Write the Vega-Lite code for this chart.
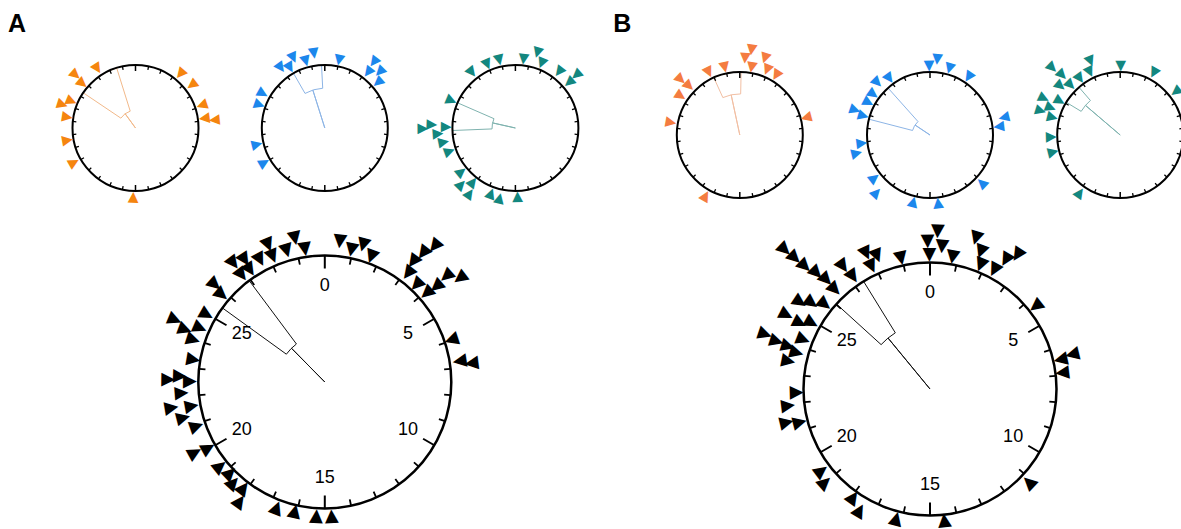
{
"$schema":"https://vega.github.io/schema/vega-lite/v6.json",
"background":"white",
"autosize":{"type":"pad"},
"padding":{"left":7.75,"top":11,"right":0,"bottom":0},
"bounds":"flush",
"align":"each",
"spacing":{"row":20,"column":0},
"columns":6,
"config":{"view":{"stroke":null}},
"datasets":{
"ring":[{"from":0,"to":30,"r":1}],
"ticks":[{"d":0},{"d":1},{"d":2},{"d":3},{"d":4},{"d":5},{"d":6},{"d":7},{"d":8},{"d":9},{"d":10},{"d":11},{"d":12},{"d":13},{"d":14},{"d":15},{"d":16},{"d":17},{"d":18},{"d":19},{"d":20},{"d":21},{"d":22},{"d":23},{"d":24},{"d":25},{"d":26},{"d":27},{"d":28},{"d":29}],
"labels":[{"d":0,"t":"0"},{"d":5,"t":"5"},{"d":10,"t":"10"},{"d":15,"t":"15"},{"d":20,"t":"20"},{"d":25,"t":"25"}],
"stats":[
{"p":"A","g":"o","m":27.0,"lo":25.33,"hi":28.55,"rho":0.28},
{"p":"A","g":"b","m":28.54,"lo":27.52,"hi":29.75,"rho":0.632},
{"p":"A","g":"t","m":23.55,"lo":22.31,"hi":24.46,"rho":0.371},
{"p":"A","g":"all","m":26.28,"lo":25.49,"hi":26.94,"rho":0.375},
{"p":"B","g":"o","m":28.99,"lo":27.97,"hi":30.1,"rho":0.652},
{"p":"B","g":"b","m":25.31,"lo":23.71,"hi":26.52,"rho":0.286},
{"p":"B","g":"t","m":25.87,"lo":25.1,"hi":26.6,"rho":0.724},
{"p":"B","g":"all","m":26.71,"lo":26.02,"hi":27.36,"rho":0.522}],
"ev":[
{"p":"A","g":"o","d":27.28,"r":1.129},{"p":"A","g":"o","d":25.96,"r":1.274},{"p":"A","g":"o","d":25.83,"r":1.107},{"p":"A","g":"o","d":23.99,"r":1.226},{"p":"A","g":"o","d":24.40,"r":1.110},{"p":"A","g":"o","d":23.26,"r":1.101},{"p":"A","g":"o","d":21.65,"r":1.105},{"p":"A","g":"o","d":20.06,"r":1.126},{"p":"A","g":"o","d":15.16,"r":1.109},{"p":"A","g":"o","d":3.30,"r":1.123},{"p":"A","g":"o","d":4.40,"r":1.132},{"p":"A","g":"o","d":5.92,"r":1.122},{"p":"A","g":"o","d":6.84,"r":1.109},{"p":"A","g":"o","d":7.02,"r":1.264},
{"p":"A","g":"b","d":26.98,"r":1.193},{"p":"A","g":"b","d":27.50,"r":1.112},{"p":"A","g":"b","d":27.99,"r":1.229},{"p":"A","g":"b","d":28.67,"r":1.112},{"p":"A","g":"b","d":29.30,"r":1.203},{"p":"A","g":"b","d":0.99,"r":1.108},{"p":"A","g":"b","d":3.05,"r":1.312},{"p":"A","g":"b","d":3.14,"r":1.128},{"p":"A","g":"b","d":3.69,"r":1.250},{"p":"A","g":"b","d":4.12,"r":1.114},{"p":"A","g":"b","d":24.92,"r":1.132},{"p":"A","g":"b","d":24.13,"r":1.106},{"p":"A","g":"b","d":21.36,"r":1.116},{"p":"A","g":"b","d":20.02,"r":1.116},
{"p":"A","g":"t","d":26.83,"r":1.127},{"p":"A","g":"t","d":28.01,"r":1.114},{"p":"A","g":"t","d":28.89,"r":1.117},{"p":"A","g":"t","d":0.56,"r":1.105},{"p":"A","g":"t","d":1.36,"r":1.254},{"p":"A","g":"t","d":1.83,"r":1.115},{"p":"A","g":"t","d":3.15,"r":1.135},{"p":"A","g":"t","d":4.08,"r":1.286},{"p":"A","g":"t","d":4.13,"r":1.122},{"p":"A","g":"t","d":24.43,"r":1.113},{"p":"A","g":"t","d":22.46,"r":1.474},{"p":"A","g":"t","d":22.68,"r":1.332},{"p":"A","g":"t","d":22.56,"r":1.103},{"p":"A","g":"t","d":22.14,"r":1.239},{"p":"A","g":"t","d":21.57,"r":1.167},{"p":"A","g":"t","d":20.87,"r":1.114},{"p":"A","g":"t","d":19.25,"r":1.113},{"p":"A","g":"t","d":18.65,"r":1.250},{"p":"A","g":"t","d":18.19,"r":1.096},{"p":"A","g":"t","d":17.92,"r":1.276},{"p":"A","g":"t","d":16.70,"r":1.115},{"p":"A","g":"t","d":16.07,"r":1.153},{"p":"A","g":"t","d":14.85,"r":1.098},
{"p":"A","g":"all","d":29.02,"r":1.164},{"p":"A","g":"all","d":29.29,"r":1.065},{"p":"A","g":"all","d":28.65,"r":1.085},{"p":"A","g":"all","d":28.13,"r":1.176},{"p":"A","g":"all","d":28.12,"r":1.078},{"p":"A","g":"all","d":27.67,"r":1.097},{"p":"A","g":"all","d":26.87,"r":1.189},{"p":"A","g":"all","d":27.23,"r":1.157},{"p":"A","g":"all","d":27.19,"r":1.069},{"p":"A","g":"all","d":26.85,"r":1.076},{"p":"A","g":"all","d":25.96,"r":1.163},{"p":"A","g":"all","d":25.85,"r":1.071},{"p":"A","g":"all","d":24.97,"r":1.078},{"p":"A","g":"all","d":24.45,"r":1.078},{"p":"A","g":"all","d":24.38,"r":1.286},{"p":"A","g":"all","d":24.21,"r":1.183},{"p":"A","g":"all","d":23.98,"r":1.095},{"p":"A","g":"all","d":23.30,"r":1.057},{"p":"A","g":"all","d":22.57,"r":1.240},{"p":"A","g":"all","d":22.69,"r":1.149},{"p":"A","g":"all","d":22.52,"r":1.069},{"p":"A","g":"all","d":22.13,"r":1.138},{"p":"A","g":"all","d":21.70,"r":1.231},{"p":"A","g":"all","d":21.31,"r":1.157},{"p":"A","g":"all","d":21.64,"r":1.073},{"p":"A","g":"all","d":20.91,"r":1.075},{"p":"A","g":"all","d":20.12,"r":1.172},{"p":"A","g":"all","d":20.04,"r":1.061},{"p":"A","g":"all","d":19.27,"r":1.066},{"p":"A","g":"all","d":18.85,"r":1.041},{"p":"A","g":"all","d":18.52,"r":1.080},{"p":"A","g":"all","d":18.13,"r":1.059},{"p":"A","g":"all","d":17.96,"r":1.160},{"p":"A","g":"all","d":16.75,"r":1.068},{"p":"A","g":"all","d":16.09,"r":1.051},{"p":"A","g":"all","d":15.30,"r":1.065},{"p":"A","g":"all","d":14.76,"r":1.065},{"p":"A","g":"all","d":0.51,"r":1.120},{"p":"A","g":"all","d":0.95,"r":1.069},{"p":"A","g":"all","d":1.30,"r":1.129},{"p":"A","g":"all","d":1.70,"r":1.061},{"p":"A","g":"all","d":3.12,"r":1.086},{"p":"A","g":"all","d":3.02,"r":1.184},{"p":"A","g":"all","d":3.11,"r":1.284},{"p":"A","g":"all","d":3.25,"r":1.383},{"p":"A","g":"all","d":3.61,"r":1.058},{"p":"A","g":"all","d":4.07,"r":1.070},{"p":"A","g":"all","d":4.12,"r":1.164},{"p":"A","g":"all","d":4.08,"r":1.276},{"p":"A","g":"all","d":4.37,"r":1.349},{"p":"A","g":"all","d":5.96,"r":1.057},{"p":"A","g":"all","d":6.77,"r":1.081},{"p":"A","g":"all","d":6.89,"r":1.171},
{"p":"B","g":"o","d":26.10,"r":1.292},{"p":"B","g":"o","d":26.16,"r":1.124},{"p":"B","g":"o","d":25.28,"r":1.128},{"p":"B","g":"o","d":23.36,"r":1.118},{"p":"B","g":"o","d":27.82,"r":1.120},{"p":"B","g":"o","d":28.95,"r":1.106},{"p":"B","g":"o","d":0.33,"r":1.229},{"p":"B","g":"o","d":0.66,"r":1.371},{"p":"B","g":"o","d":0.83,"r":1.095},{"p":"B","g":"o","d":1.51,"r":1.290},{"p":"B","g":"o","d":1.89,"r":1.130},{"p":"B","g":"o","d":2.62,"r":1.117},{"p":"B","g":"o","d":17.44,"r":1.117},{"p":"B","g":"o","d":6.27,"r":1.094},
{"p":"B","g":"b","d":29.93,"r":1.101},{"p":"B","g":"b","d":0.46,"r":1.212},{"p":"B","g":"b","d":1.36,"r":1.108},{"p":"B","g":"b","d":2.79,"r":1.111},{"p":"B","g":"b","d":27.02,"r":1.114},{"p":"B","g":"b","d":26.24,"r":1.186},{"p":"B","g":"b","d":25.47,"r":1.114},{"p":"B","g":"b","d":24.82,"r":1.112},{"p":"B","g":"b","d":24.03,"r":1.260},{"p":"B","g":"b","d":23.84,"r":1.107},{"p":"B","g":"b","d":21.92,"r":1.098},{"p":"B","g":"b","d":21.33,"r":1.205},{"p":"B","g":"b","d":19.37,"r":1.121},{"p":"B","g":"b","d":18.58,"r":1.258},{"p":"B","g":"b","d":16.18,"r":1.102},{"p":"B","g":"b","d":14.44,"r":1.092},{"p":"B","g":"b","d":11.07,"r":1.127},{"p":"B","g":"b","d":6.93,"r":1.103},{"p":"B","g":"b","d":6.38,"r":1.208},
{"p":"B","g":"t","d":26.22,"r":1.524},{"p":"B","g":"t","d":26.32,"r":1.330},{"p":"B","g":"t","d":28.16,"r":1.270},{"p":"B","g":"t","d":27.85,"r":1.120},{"p":"B","g":"t","d":27.03,"r":1.110},{"p":"B","g":"t","d":26.26,"r":1.125},{"p":"B","g":"t","d":25.78,"r":1.232},{"p":"B","g":"t","d":24.64,"r":1.350},{"p":"B","g":"t","d":23.91,"r":1.326},{"p":"B","g":"t","d":24.29,"r":1.194},{"p":"B","g":"t","d":24.95,"r":1.106},{"p":"B","g":"t","d":23.71,"r":1.120},{"p":"B","g":"t","d":22.34,"r":1.101},{"p":"B","g":"t","d":21.30,"r":1.103},{"p":"B","g":"t","d":0.03,"r":1.098},{"p":"B","g":"t","d":2.37,"r":1.127},{"p":"B","g":"t","d":4.33,"r":1.122},{"p":"B","g":"t","d":17.92,"r":1.127},
{"p":"B","g":"all","d":29.92,"r":1.169},{"p":"B","g":"all","d":0.23,"r":1.249},{"p":"B","g":"all","d":0.40,"r":1.133},{"p":"B","g":"all","d":29.98,"r":1.063},{"p":"B","g":"all","d":0.81,"r":1.060},{"p":"B","g":"all","d":1.41,"r":1.249},{"p":"B","g":"all","d":1.69,"r":1.162},{"p":"B","g":"all","d":1.85,"r":1.063},{"p":"B","g":"all","d":2.36,"r":1.073},{"p":"B","g":"all","d":2.53,"r":1.187},{"p":"B","g":"all","d":2.76,"r":1.268},{"p":"B","g":"all","d":28.96,"r":1.062},{"p":"B","g":"all","d":27.90,"r":1.189},{"p":"B","g":"all","d":28.19,"r":1.136},{"p":"B","g":"all","d":27.87,"r":1.077},{"p":"B","g":"all","d":27.05,"r":1.191},{"p":"B","g":"all","d":27.13,"r":1.081},{"p":"B","g":"all","d":26.15,"r":1.593},{"p":"B","g":"all","d":26.17,"r":1.491},{"p":"B","g":"all","d":26.20,"r":1.388},{"p":"B","g":"all","d":26.30,"r":1.286},{"p":"B","g":"all","d":26.37,"r":1.193},{"p":"B","g":"all","d":26.35,"r":1.091},{"p":"B","g":"all","d":25.31,"r":1.239},{"p":"B","g":"all","d":25.50,"r":1.161},{"p":"B","g":"all","d":25.73,"r":1.069},{"p":"B","g":"all","d":24.78,"r":1.281},{"p":"B","g":"all","d":24.74,"r":1.157},{"p":"B","g":"all","d":24.93,"r":1.076},{"p":"B","g":"all","d":24.03,"r":1.377},{"p":"B","g":"all","d":23.94,"r":1.273},{"p":"B","g":"all","d":23.90,"r":1.174},{"p":"B","g":"all","d":24.27,"r":1.079},{"p":"B","g":"all","d":23.77,"r":1.096},{"p":"B","g":"all","d":23.43,"r":1.145},{"p":"B","g":"all","d":22.37,"r":1.058},{"p":"B","g":"all","d":21.93,"r":1.132},{"p":"B","g":"all","d":21.40,"r":1.167},{"p":"B","g":"all","d":21.30,"r":1.065},{"p":"B","g":"all","d":19.42,"r":1.077},{"p":"B","g":"all","d":19.03,"r":1.115},{"p":"B","g":"all","d":17.95,"r":1.053},{"p":"B","g":"all","d":17.51,"r":1.113},{"p":"B","g":"all","d":16.22,"r":1.063},{"p":"B","g":"all","d":14.48,"r":1.048},{"p":"B","g":"all","d":11.11,"r":1.078},{"p":"B","g":"all","d":4.33,"r":1.063},{"p":"B","g":"all","d":6.44,"r":1.060},{"p":"B","g":"all","d":6.36,"r":1.159},{"p":"B","g":"all","d":6.92,"r":1.055}
]},
"concat":[
  {"width":189.5,"height":176,
   "title":{"text":"A","anchor":"start","frame":"group","dx":-32.75,"dy":24.5,"offset":8,"baseline":"alphabetic","fontSize":25,"fontWeight":"bold","font":"Liberation Sans","color":"#000"},
   "layer":[
   {"data":{"name":"stats"},"transform":[{"filter":"datum.p=='A' && datum.g=='o'"}],"mark":{"type":"arc","filled":false,"stroke":"#F2B98A","strokeWidth":1},"encoding":{"theta":{"field":"m","type":"quantitative"},"theta2":{"field":"m"},"radius":{"field":"rho","type":"quantitative"}}},
   {"data":{"name":"stats"},"transform":[{"filter":"datum.p=='A' && datum.g=='o'"}],"mark":{"type":"arc","filled":false,"stroke":"#F2B98A","strokeWidth":1},"encoding":{"theta":{"field":"lo","type":"quantitative"},"theta2":{"field":"hi"},"radius":{"field":"rho","type":"quantitative"},"radius2":{"value":63}}},
   {"data":{"name":"ring"},"mark":{"type":"arc","filled":false,"stroke":"#000","strokeWidth":2},"encoding":{"theta":{"field":"from","type":"quantitative","scale":{"type":"linear","domain":[0,30],"range":[0,6.283185307179586],"nice":false,"zero":false}},"theta2":{"field":"to"},"radius":{"field":"r","type":"quantitative","scale":{"type":"linear","domain":[0,1],"range":[0,63],"nice":false,"zero":true}}}},
   {"data":{"name":"ticks"},"transform":[{"filter":"datum.d % 15 != 0"}],"mark":{"type":"arc","filled":false,"stroke":"#000","strokeWidth":1.3,"outerRadius":63,"innerRadius":59.5},"encoding":{"theta":{"field":"d","type":"quantitative"},"theta2":{"field":"d"}}},
   {"data":{"name":"ticks"},"transform":[{"filter":"datum.d % 15 == 0"}],"mark":{"type":"arc","filled":false,"stroke":"#000","strokeWidth":1.5,"outerRadius":63,"innerRadius":57},"encoding":{"theta":{"field":"d","type":"quantitative"},"theta2":{"field":"d"}}},
   {"data":{"name":"ev"},"transform":[{"filter":"datum.p=='A' && datum.g=='o'"}],"mark":{"type":"text","text":"▼","font":"DejaVu Sans","fontSize":14,"color":"#F5850F"},"encoding":{"theta":{"field":"d","type":"quantitative"},"radius":{"field":"r","type":"quantitative"},"angle":{"field":"d","type":"quantitative","scale":{"type":"linear","domain":[0,30],"range":[0,360],"nice":false,"zero":false}}}}
  ]},
  {"width":188.1,"height":176,"layer":[
   {"data":{"name":"stats"},"transform":[{"filter":"datum.p=='A' && datum.g=='b'"}],"mark":{"type":"arc","filled":false,"stroke":"#8DB5E6","strokeWidth":1},"encoding":{"theta":{"field":"m","type":"quantitative"},"theta2":{"field":"m"},"radius":{"field":"rho","type":"quantitative"}}},
   {"data":{"name":"stats"},"transform":[{"filter":"datum.p=='A' && datum.g=='b'"}],"mark":{"type":"arc","filled":false,"stroke":"#8DB5E6","strokeWidth":1},"encoding":{"theta":{"field":"lo","type":"quantitative"},"theta2":{"field":"hi"},"radius":{"field":"rho","type":"quantitative"},"radius2":{"value":63}}},
   {"data":{"name":"ring"},"mark":{"type":"arc","filled":false,"stroke":"#000","strokeWidth":2},"encoding":{"theta":{"field":"from","type":"quantitative","scale":{"type":"linear","domain":[0,30],"range":[0,6.283185307179586],"nice":false,"zero":false}},"theta2":{"field":"to"},"radius":{"field":"r","type":"quantitative","scale":{"type":"linear","domain":[0,1],"range":[0,63],"nice":false,"zero":true}}}},
   {"data":{"name":"ticks"},"transform":[{"filter":"datum.d % 15 != 0"}],"mark":{"type":"arc","filled":false,"stroke":"#000","strokeWidth":1.3,"outerRadius":63,"innerRadius":59.5},"encoding":{"theta":{"field":"d","type":"quantitative"},"theta2":{"field":"d"}}},
   {"data":{"name":"ticks"},"transform":[{"filter":"datum.d % 15 == 0"}],"mark":{"type":"arc","filled":false,"stroke":"#000","strokeWidth":1.5,"outerRadius":63,"innerRadius":57},"encoding":{"theta":{"field":"d","type":"quantitative"},"theta2":{"field":"d"}}},
   {"data":{"name":"ev"},"transform":[{"filter":"datum.p=='A' && datum.g=='b'"}],"mark":{"type":"text","text":"▼","font":"DejaVu Sans","fontSize":14,"color":"#1C87EC"},"encoding":{"theta":{"field":"d","type":"quantitative"},"radius":{"field":"r","type":"quantitative"},"angle":{"field":"d","type":"quantitative","scale":{"type":"linear","domain":[0,30],"range":[0,360],"nice":false,"zero":false}}}}
  ]},
  {"width":191.3,"height":176,"layer":[
   {"data":{"name":"stats"},"transform":[{"filter":"datum.p=='A' && datum.g=='t'"}],"mark":{"type":"arc","filled":false,"stroke":"#7FB3AF","strokeWidth":1},"encoding":{"theta":{"field":"m","type":"quantitative"},"theta2":{"field":"m"},"radius":{"field":"rho","type":"quantitative"}}},
   {"data":{"name":"stats"},"transform":[{"filter":"datum.p=='A' && datum.g=='t'"}],"mark":{"type":"arc","filled":false,"stroke":"#7FB3AF","strokeWidth":1},"encoding":{"theta":{"field":"lo","type":"quantitative"},"theta2":{"field":"hi"},"radius":{"field":"rho","type":"quantitative"},"radius2":{"value":63}}},
   {"data":{"name":"ring"},"mark":{"type":"arc","filled":false,"stroke":"#000","strokeWidth":2},"encoding":{"theta":{"field":"from","type":"quantitative","scale":{"type":"linear","domain":[0,30],"range":[0,6.283185307179586],"nice":false,"zero":false}},"theta2":{"field":"to"},"radius":{"field":"r","type":"quantitative","scale":{"type":"linear","domain":[0,1],"range":[0,63],"nice":false,"zero":true}}}},
   {"data":{"name":"ticks"},"transform":[{"filter":"datum.d % 15 != 0"}],"mark":{"type":"arc","filled":false,"stroke":"#000","strokeWidth":1.3,"outerRadius":63,"innerRadius":59.5},"encoding":{"theta":{"field":"d","type":"quantitative"},"theta2":{"field":"d"}}},
   {"data":{"name":"ticks"},"transform":[{"filter":"datum.d % 15 == 0"}],"mark":{"type":"arc","filled":false,"stroke":"#000","strokeWidth":1.5,"outerRadius":63,"innerRadius":57},"encoding":{"theta":{"field":"d","type":"quantitative"},"theta2":{"field":"d"}}},
   {"data":{"name":"ev"},"transform":[{"filter":"datum.p=='A' && datum.g=='t'"}],"mark":{"type":"text","text":"▼","font":"DejaVu Sans","fontSize":14,"color":"#13877F"},"encoding":{"theta":{"field":"d","type":"quantitative"},"radius":{"field":"r","type":"quantitative"},"angle":{"field":"d","type":"quantitative","scale":{"type":"linear","domain":[0,30],"range":[0,360],"nice":false,"zero":false}}}}
  ]},
  {"width":256.1,"height":190,
   "title":{"text":"B","anchor":"start","frame":"group","dx":1.5,"dy":24.5,"offset":8,"baseline":"alphabetic","fontSize":25,"fontWeight":"bold","font":"Liberation Sans","color":"#000"},
   "layer":[
   {"data":{"name":"stats"},"transform":[{"filter":"datum.p=='B' && datum.g=='o'"}],"mark":{"type":"arc","filled":false,"stroke":"#F2BFA3","strokeWidth":1},"encoding":{"theta":{"field":"m","type":"quantitative"},"theta2":{"field":"m"},"radius":{"field":"rho","type":"quantitative"}}},
   {"data":{"name":"stats"},"transform":[{"filter":"datum.p=='B' && datum.g=='o'"}],"mark":{"type":"arc","filled":false,"stroke":"#F2BFA3","strokeWidth":1},"encoding":{"theta":{"field":"lo","type":"quantitative"},"theta2":{"field":"hi"},"radius":{"field":"rho","type":"quantitative"},"radius2":{"value":63}}},
   {"data":{"name":"ring"},"mark":{"type":"arc","filled":false,"stroke":"#000","strokeWidth":2},"encoding":{"theta":{"field":"from","type":"quantitative","scale":{"type":"linear","domain":[0,30],"range":[0,6.283185307179586],"nice":false,"zero":false}},"theta2":{"field":"to"},"radius":{"field":"r","type":"quantitative","scale":{"type":"linear","domain":[0,1],"range":[0,63],"nice":false,"zero":true}}}},
   {"data":{"name":"ticks"},"transform":[{"filter":"datum.d % 15 != 0"}],"mark":{"type":"arc","filled":false,"stroke":"#000","strokeWidth":1.3,"outerRadius":63,"innerRadius":59.5},"encoding":{"theta":{"field":"d","type":"quantitative"},"theta2":{"field":"d"}}},
   {"data":{"name":"ticks"},"transform":[{"filter":"datum.d % 15 == 0"}],"mark":{"type":"arc","filled":false,"stroke":"#000","strokeWidth":1.5,"outerRadius":63,"innerRadius":57},"encoding":{"theta":{"field":"d","type":"quantitative"},"theta2":{"field":"d"}}},
   {"data":{"name":"ev"},"transform":[{"filter":"datum.p=='B' && datum.g=='o'"}],"mark":{"type":"text","text":"▼","font":"DejaVu Sans","fontSize":14,"color":"#F47C40"},"encoding":{"theta":{"field":"d","type":"quantitative"},"radius":{"field":"r","type":"quantitative"},"angle":{"field":"d","type":"quantitative","scale":{"type":"linear","domain":[0,30],"range":[0,360],"nice":false,"zero":false}}}}
  ]},
  {"width":122.5,"height":190,"layer":[
   {"data":{"name":"stats"},"transform":[{"filter":"datum.p=='B' && datum.g=='b'"}],"mark":{"type":"arc","filled":false,"stroke":"#8DB5E6","strokeWidth":1},"encoding":{"theta":{"field":"m","type":"quantitative"},"theta2":{"field":"m"},"radius":{"field":"rho","type":"quantitative"}}},
   {"data":{"name":"stats"},"transform":[{"filter":"datum.p=='B' && datum.g=='b'"}],"mark":{"type":"arc","filled":false,"stroke":"#8DB5E6","strokeWidth":1},"encoding":{"theta":{"field":"lo","type":"quantitative"},"theta2":{"field":"hi"},"radius":{"field":"rho","type":"quantitative"},"radius2":{"value":63}}},
   {"data":{"name":"ring"},"mark":{"type":"arc","filled":false,"stroke":"#000","strokeWidth":2},"encoding":{"theta":{"field":"from","type":"quantitative","scale":{"type":"linear","domain":[0,30],"range":[0,6.283185307179586],"nice":false,"zero":false}},"theta2":{"field":"to"},"radius":{"field":"r","type":"quantitative","scale":{"type":"linear","domain":[0,1],"range":[0,63],"nice":false,"zero":true}}}},
   {"data":{"name":"ticks"},"transform":[{"filter":"datum.d % 15 != 0"}],"mark":{"type":"arc","filled":false,"stroke":"#000","strokeWidth":1.3,"outerRadius":63,"innerRadius":59.5},"encoding":{"theta":{"field":"d","type":"quantitative"},"theta2":{"field":"d"}}},
   {"data":{"name":"ticks"},"transform":[{"filter":"datum.d % 15 == 0"}],"mark":{"type":"arc","filled":false,"stroke":"#000","strokeWidth":1.5,"outerRadius":63,"innerRadius":57},"encoding":{"theta":{"field":"d","type":"quantitative"},"theta2":{"field":"d"}}},
   {"data":{"name":"ev"},"transform":[{"filter":"datum.p=='B' && datum.g=='b'"}],"mark":{"type":"text","text":"▼","font":"DejaVu Sans","fontSize":14,"color":"#1C87EC"},"encoding":{"theta":{"field":"d","type":"quantitative"},"radius":{"field":"r","type":"quantitative"},"angle":{"field":"d","type":"quantitative","scale":{"type":"linear","domain":[0,30],"range":[0,360],"nice":false,"zero":false}}}}
  ]},
  {"width":256.9,"height":190,"layer":[
   {"data":{"name":"stats"},"transform":[{"filter":"datum.p=='B' && datum.g=='t'"}],"mark":{"type":"arc","filled":false,"stroke":"#7FB3AF","strokeWidth":1},"encoding":{"theta":{"field":"m","type":"quantitative"},"theta2":{"field":"m"},"radius":{"field":"rho","type":"quantitative"}}},
   {"data":{"name":"stats"},"transform":[{"filter":"datum.p=='B' && datum.g=='t'"}],"mark":{"type":"arc","filled":false,"stroke":"#7FB3AF","strokeWidth":1},"encoding":{"theta":{"field":"lo","type":"quantitative"},"theta2":{"field":"hi"},"radius":{"field":"rho","type":"quantitative"},"radius2":{"value":63}}},
   {"data":{"name":"ring"},"mark":{"type":"arc","filled":false,"stroke":"#000","strokeWidth":2},"encoding":{"theta":{"field":"from","type":"quantitative","scale":{"type":"linear","domain":[0,30],"range":[0,6.283185307179586],"nice":false,"zero":false}},"theta2":{"field":"to"},"radius":{"field":"r","type":"quantitative","scale":{"type":"linear","domain":[0,1],"range":[0,63],"nice":false,"zero":true}}}},
   {"data":{"name":"ticks"},"transform":[{"filter":"datum.d % 15 != 0"}],"mark":{"type":"arc","filled":false,"stroke":"#000","strokeWidth":1.3,"outerRadius":63,"innerRadius":59.5},"encoding":{"theta":{"field":"d","type":"quantitative"},"theta2":{"field":"d"}}},
   {"data":{"name":"ticks"},"transform":[{"filter":"datum.d % 15 == 0"}],"mark":{"type":"arc","filled":false,"stroke":"#000","strokeWidth":1.5,"outerRadius":63,"innerRadius":57},"encoding":{"theta":{"field":"d","type":"quantitative"},"theta2":{"field":"d"}}},
   {"data":{"name":"ev"},"transform":[{"filter":"datum.p=='B' && datum.g=='t'"}],"mark":{"type":"text","text":"▼","font":"DejaVu Sans","fontSize":14,"color":"#13877F"},"encoding":{"theta":{"field":"d","type":"quantitative"},"radius":{"field":"r","type":"quantitative"},"angle":{"field":"d","type":"quantitative","scale":{"type":"linear","domain":[0,30],"range":[0,360],"nice":false,"zero":false}}}}
  ]},
  {"width":10,"height":10,"data":{"values":[]},"mark":"point","encoding":{}},
  {"width":188.1,"height":264,"layer":[
   {"data":{"name":"stats"},"transform":[{"filter":"datum.p=='A' && datum.g=='all'"}],"mark":{"type":"arc","filled":false,"stroke":"#111","strokeWidth":1},"encoding":{"theta":{"field":"m","type":"quantitative"},"theta2":{"field":"m"},"radius":{"field":"rho","type":"quantitative"}}},
   {"data":{"name":"stats"},"transform":[{"filter":"datum.p=='A' && datum.g=='all'"}],"mark":{"type":"arc","filled":false,"stroke":"#111","strokeWidth":1},"encoding":{"theta":{"field":"lo","type":"quantitative"},"theta2":{"field":"hi"},"radius":{"field":"rho","type":"quantitative"},"radius2":{"value":126.5}}},
   {"data":{"name":"ring"},"mark":{"type":"arc","filled":false,"stroke":"#000","strokeWidth":2.5},"encoding":{"theta":{"field":"from","type":"quantitative","scale":{"type":"linear","domain":[0,30],"range":[0,6.283185307179586],"nice":false,"zero":false}},"theta2":{"field":"to"},"radius":{"field":"r","type":"quantitative","scale":{"type":"linear","domain":[0,1],"range":[0,126.5],"nice":false,"zero":true}}}},
   {"data":{"name":"ticks"},"transform":[{"filter":"datum.d % 5 != 0"}],"mark":{"type":"arc","filled":false,"stroke":"#000","strokeWidth":1.8,"outerRadius":126.5,"innerRadius":120},"encoding":{"theta":{"field":"d","type":"quantitative"},"theta2":{"field":"d"}}},
   {"data":{"name":"ticks"},"transform":[{"filter":"datum.d % 5 == 0"}],"mark":{"type":"arc","filled":false,"stroke":"#000","strokeWidth":2,"outerRadius":126.5,"innerRadius":113.5},"encoding":{"theta":{"field":"d","type":"quantitative"},"theta2":{"field":"d"}}},
   {"data":{"name":"labels"},"mark":{"type":"text","font":"Liberation Sans","fontSize":18,"color":"#000","radius":96},"encoding":{"theta":{"field":"d","type":"quantitative"},"text":{"field":"t","type":"nominal"}}},
   {"data":{"name":"ev"},"transform":[{"filter":"datum.p=='A' && datum.g=='all'"}],"mark":{"type":"text","text":"▼","font":"DejaVu Sans","fontSize":18,"color":"#000"},"encoding":{"theta":{"field":"d","type":"quantitative"},"radius":{"field":"r","type":"quantitative"},"angle":{"field":"d","type":"quantitative","scale":{"type":"linear","domain":[0,30],"range":[0,360],"nice":false,"zero":false}}}}
  ]},
  {"width":10,"height":10,"data":{"values":[]},"mark":"point","encoding":{}},
  {"width":10,"height":10,"data":{"values":[]},"mark":"point","encoding":{}},
  {"width":122.5,"height":278,"layer":[
   {"data":{"name":"stats"},"transform":[{"filter":"datum.p=='B' && datum.g=='all'"}],"mark":{"type":"arc","filled":false,"stroke":"#111","strokeWidth":1},"encoding":{"theta":{"field":"m","type":"quantitative"},"theta2":{"field":"m"},"radius":{"field":"rho","type":"quantitative"}}},
   {"data":{"name":"stats"},"transform":[{"filter":"datum.p=='B' && datum.g=='all'"}],"mark":{"type":"arc","filled":false,"stroke":"#111","strokeWidth":1},"encoding":{"theta":{"field":"lo","type":"quantitative"},"theta2":{"field":"hi"},"radius":{"field":"rho","type":"quantitative"},"radius2":{"value":126.5}}},
   {"data":{"name":"ring"},"mark":{"type":"arc","filled":false,"stroke":"#000","strokeWidth":2.5},"encoding":{"theta":{"field":"from","type":"quantitative","scale":{"type":"linear","domain":[0,30],"range":[0,6.283185307179586],"nice":false,"zero":false}},"theta2":{"field":"to"},"radius":{"field":"r","type":"quantitative","scale":{"type":"linear","domain":[0,1],"range":[0,126.5],"nice":false,"zero":true}}}},
   {"data":{"name":"ticks"},"transform":[{"filter":"datum.d % 5 != 0"}],"mark":{"type":"arc","filled":false,"stroke":"#000","strokeWidth":1.8,"outerRadius":126.5,"innerRadius":120},"encoding":{"theta":{"field":"d","type":"quantitative"},"theta2":{"field":"d"}}},
   {"data":{"name":"ticks"},"transform":[{"filter":"datum.d % 5 == 0"}],"mark":{"type":"arc","filled":false,"stroke":"#000","strokeWidth":2,"outerRadius":126.5,"innerRadius":113.5},"encoding":{"theta":{"field":"d","type":"quantitative"},"theta2":{"field":"d"}}},
   {"data":{"name":"labels"},"mark":{"type":"text","font":"Liberation Sans","fontSize":18,"color":"#000","radius":96},"encoding":{"theta":{"field":"d","type":"quantitative"},"text":{"field":"t","type":"nominal"}}},
   {"data":{"name":"ev"},"transform":[{"filter":"datum.p=='B' && datum.g=='all'"}],"mark":{"type":"text","text":"▼","font":"DejaVu Sans","fontSize":18,"color":"#000"},"encoding":{"theta":{"field":"d","type":"quantitative"},"radius":{"field":"r","type":"quantitative"},"angle":{"field":"d","type":"quantitative","scale":{"type":"linear","domain":[0,30],"range":[0,360],"nice":false,"zero":false}}}}
  ]}
]
}
